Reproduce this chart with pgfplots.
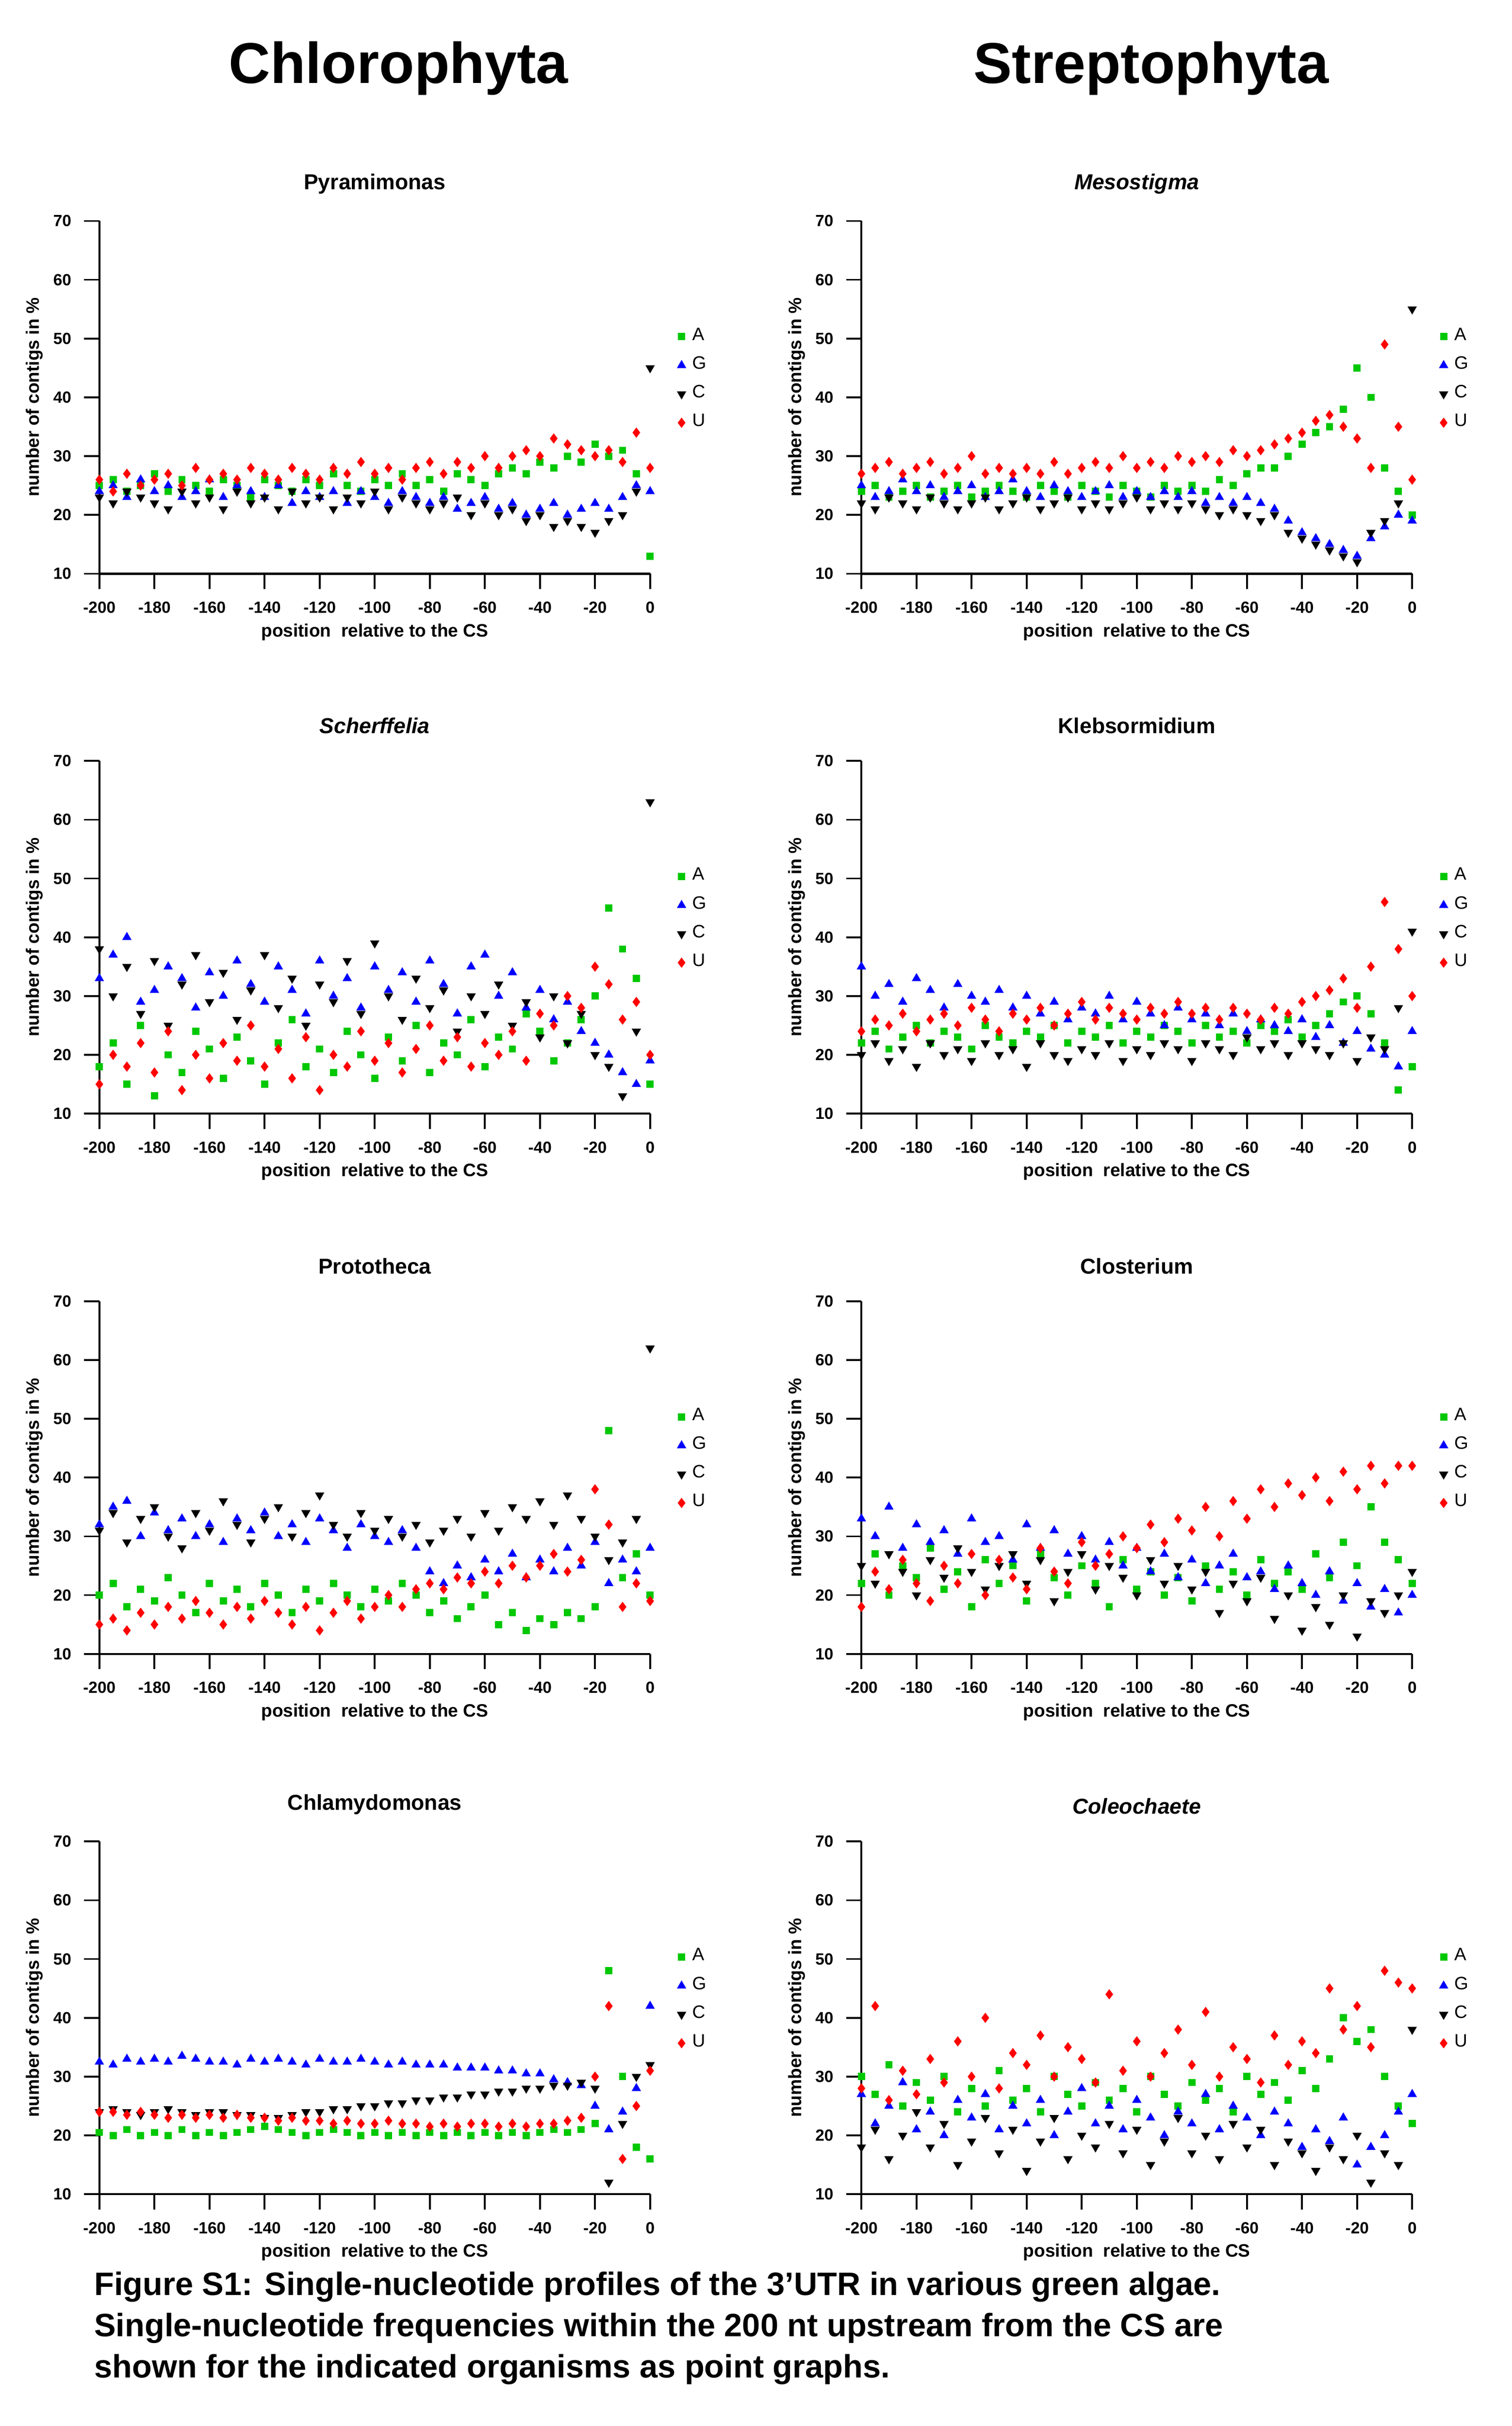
\documentclass[border=0pt]{standalone}
\usepackage{pgfplots}
\pgfplotsset{compat=1.18}
\usepackage{pgfplotstable}
\usepackage{fontspec}
\setmainfont{Liberation Sans}
\definecolor{cA}{RGB}{0,200,0}
\definecolor{cG}{RGB}{0,0,255}
\definecolor{cU}{RGB}{255,0,0}
\pgfplotstableread{
x A G C U
-200 25 24 23 26
-195 26 25 22 24
-190 24 23 24 27
-185 25 26 23 25
-180 27 24 22 26
-175 24 25 21 27
-170 26 23 24 25
-165 25 24 22 28
-160 24 26 23 26
-155 26 23 21 27
-150 25 25 24 26
-145 23 24 22 28
-140 26 23 23 27
-135 25 25 21 26
-130 24 22 24 28
-125 26 24 22 27
-120 25 23 23 26
-115 27 24 21 28
-110 25 22 23 27
-105 24 24 22 29
-100 26 23 24 27
-95 25 22 21 28
-90 27 24 23 26
-85 25 23 22 28
-80 26 22 21 29
-75 24 23 22 27
-70 27 21 23 29
-65 26 22 20 28
-60 25 23 22 30
-55 27 21 20 28
-50 28 22 21 30
-45 27 20 19 31
-40 29 21 20 30
-35 28 22 18 33
-30 30 20 19 32
-25 29 21 18 31
-20 32 22 17 30
-15 30 21 19 31
-10 31 23 20 29
-5 27 25 24 34
0 13 24 45 28
}\tPyr
\pgfplotstableread{
x A G C U
-200 24 25 22 27
-195 25 23 21 28
-190 23 24 23 29
-185 24 26 22 27
-180 25 24 21 28
-175 23 25 23 29
-170 24 23 22 27
-165 25 24 21 28
-160 23 25 22 30
-155 24 23 23 27
-150 25 24 21 28
-145 24 26 22 27
-140 23 24 23 28
-135 25 23 21 27
-130 24 25 22 29
-125 23 24 23 27
-120 25 23 21 28
-115 24 24 22 29
-110 23 25 21 28
-105 25 23 22 30
-100 24 24 23 28
-95 23 23 21 29
-90 25 24 22 28
-85 24 23 21 30
-80 25 24 22 29
-75 24 22 21 30
-70 26 23 20 29
-65 25 22 21 31
-60 27 23 20 30
-55 28 22 19 31
-50 28 21 20 32
-45 30 19 17 33
-40 32 17 16 34
-35 34 16 15 36
-30 35 15 14 37
-25 38 14 13 35
-20 45 13 12 33
-15 40 16 17 28
-10 28 18 19 49
-5 24 20 22 35
0 20 19 55 26
}\tMes
\pgfplotstableread{
x A G C U
-200 18 33 38 15
-195 22 37 30 20
-190 15 40 35 18
-185 25 29 27 22
-180 13 31 36 17
-175 20 35 25 24
-170 17 33 32 14
-165 24 28 37 20
-160 21 34 29 16
-155 16 30 34 22
-150 23 36 26 19
-145 19 32 31 25
-140 15 29 37 18
-135 22 35 28 21
-130 26 31 33 16
-125 18 27 25 23
-120 21 36 32 14
-115 17 30 29 20
-110 24 33 36 18
-105 20 28 27 24
-100 16 35 39 19
-95 23 31 30 22
-90 19 34 26 17
-85 25 29 33 21
-80 17 36 28 25
-75 22 32 31 19
-70 20 27 24 23
-65 26 35 30 18
-60 18 37 27 22
-55 23 30 32 20
-50 21 34 25 24
-45 27 28 29 19
-40 24 31 23 27
-35 19 26 30 25
-30 22 29 22 30
-25 26 24 27 28
-20 30 22 20 35
-15 45 20 18 32
-10 38 17 13 26
-5 33 15 24 29
0 15 19 63 20
}\tSch
\pgfplotstableread{
x A G C U
-200 22 35 20 24
-195 24 30 22 26
-190 21 32 19 25
-185 23 29 21 27
-180 25 33 18 24
-175 22 31 22 26
-170 24 28 20 27
-165 23 32 21 25
-160 21 30 19 28
-155 25 29 22 26
-150 23 31 20 24
-145 22 28 21 27
-140 24 30 18 26
-135 23 27 22 28
-130 25 29 20 25
-125 22 26 19 27
-120 24 28 21 29
-115 23 27 20 26
-110 25 30 22 28
-105 22 26 19 27
-100 24 29 21 26
-95 23 27 20 28
-90 25 25 22 27
-85 24 28 21 29
-80 22 26 19 27
-75 25 27 22 28
-70 23 25 21 26
-65 24 27 20 28
-60 22 24 23 27
-55 25 26 21 26
-50 24 25 22 28
-45 26 24 20 27
-40 23 26 22 29
-35 25 23 21 30
-30 27 25 20 31
-25 29 22 22 33
-20 30 24 19 28
-15 27 21 23 35
-10 22 20 21 46
-5 14 18 28 38
0 18 24 41 30
}\tKle
\pgfplotstableread{
x A G C U
-200 20 32 31 15
-195 22 35 34 16
-190 18 36 29 14
-185 21 30 33 17
-180 19 34 35 15
-175 23 31 30 18
-170 20 33 28 16
-165 17 30 34 19
-160 22 32 31 17
-155 19 29 36 15
-150 21 33 32 18
-145 18 31 29 16
-140 22 34 33 19
-135 20 30 35 17
-130 17 32 30 15
-125 21 29 34 18
-120 19 33 37 14
-115 22 31 32 17
-110 20 28 30 19
-105 18 32 34 16
-100 21 30 31 18
-95 19 29 33 20
-90 22 31 30 18
-85 20 28 32 21
-80 17 24 29 22
-75 19 22 31 21
-70 16 25 33 23
-65 18 23 30 22
-60 20 26 34 24
-55 15 24 31 22
-50 17 27 35 25
-45 14 23 33 23
-40 16 26 36 25
-35 15 24 32 27
-30 17 28 37 24
-25 16 25 33 26
-20 18 29 30 38
-15 48 22 26 32
-10 23 26 29 18
-5 27 24 33 22
0 20 28 62 19
}\tPro
\pgfplotstableread{
x A G C U
-200 22 33 25 18
-195 27 30 22 24
-190 20 35 27 21
-185 25 28 24 26
-180 23 32 20 22
-175 28 29 26 19
-170 21 31 23 25
-165 24 27 28 22
-160 18 33 24 27
-155 26 29 21 20
-150 22 30 25 26
-145 25 26 27 23
-140 19 32 22 21
-135 27 28 26 28
-130 23 31 19 24
-125 20 27 24 22
-120 25 30 27 29
-115 22 26 21 25
-110 18 29 25 27
-105 26 25 23 30
-100 21 28 20 28
-95 24 24 26 32
-90 20 27 22 29
-85 23 23 25 33
-80 19 26 21 31
-75 25 22 24 35
-70 21 25 17 30
-65 24 27 22 36
-60 20 23 19 33
-55 26 24 23 38
-50 22 21 16 35
-45 24 25 20 39
-40 21 22 14 37
-35 27 20 18 40
-30 23 24 15 36
-25 29 19 20 41
-20 25 22 13 38
-15 35 18 19 42
-10 29 21 17 39
-5 26 17 20 42
0 22 20 24 42
}\tClo
\pgfplotstableread{
x A G C U
-200 20.5 32.5 24 24
-195 20 32 24.5 24
-190 21 33 24 23.5
-185 20 32.5 23.5 24
-180 20.5 33 24 23.5
-175 20 32.5 24.5 23
-170 21 33.5 24 23.5
-165 20 33 23.5 23
-160 20.5 32.5 24 23.5
-155 20 32.5 24 23
-150 20.5 32 23.5 23.5
-145 21 33 23.5 23
-140 21.5 32.5 23 23
-135 21 33 23 22.5
-130 20.5 32.5 23.5 23
-125 20 32 24 22.5
-120 20.5 33 24 22.5
-115 21 32.5 24.5 22
-110 20.5 32.5 24.5 22.5
-105 20 33 25 22
-100 20.5 32.5 25 22
-95 20 32 25.5 22.5
-90 20.5 32.5 25.5 22
-85 20 32 26 22
-80 20.5 32 26 21.5
-75 20 32 26.5 22
-70 20.5 31.5 26.5 21.5
-65 20 31.5 27 22
-60 20.5 31.5 27 22
-55 20 31 27.5 21.5
-50 20.5 31 27.5 22
-45 20 30.5 28 21.5
-40 20.5 30.5 28 22
-35 21 29.5 28.5 22
-30 20.5 29 28.5 22.5
-25 21 28.5 29 23
-20 22 25 28 30
-15 48 21 12 42
-10 30 24 22 16
-5 18 28 30 25
0 16 42 32 31
}\tChl
\pgfplotstableread{
x A G C U
-200 30 27 18 28
-195 27 22 21 42
-190 32 25 16 26
-185 25 29 20 31
-180 29 21 24 27
-175 26 24 18 33
-170 30 20 22 29
-165 24 26 15 36
-160 28 23 19 30
-155 25 27 23 40
-150 31 21 17 28
-145 26 25 21 34
-140 28 22 14 32
-135 24 26 19 37
-130 30 20 23 30
-125 27 24 16 35
-120 25 28 20 33
-115 29 22 18 29
-110 26 25 22 44
-105 28 21 17 31
-100 24 26 21 36
-95 30 23 15 30
-90 27 20 19 34
-85 25 24 23 38
-80 29 22 17 32
-75 26 27 20 41
-70 28 21 16 30
-65 24 25 22 35
-60 30 23 18 33
-55 27 20 21 29
-50 29 24 15 37
-45 26 22 19 32
-40 31 18 17 36
-35 28 21 14 34
-30 33 19 18 45
-25 40 23 16 38
-20 36 15 20 42
-15 38 18 12 35
-10 30 20 17 48
-5 25 24 15 46
0 22 27 38 45
}\tCol
\pgfplotsset{panel/.style={
  width=153pt, height=98pt, scale only axis,
  xmin=-200, xmax=0, ymin=10, ymax=70,
  xtick={-200,-180,...,0}, ytick={10,20,...,70},
  axis lines=left, axis line style={-, line width=0.6pt},
  tick align=outside, tick style={black, line width=0.5pt},
  tick label style={font=\fontsize{4.5}{5}\selectfont\bfseries},
  /pgf/number format/assume math mode=true,
  xlabel={position\ \ relative to the CS},
  ylabel={number of contigs in \%},
  label style={font=\fontsize{5}{6}\selectfont\bfseries},
  xlabel style={yshift=4pt}, ylabel style={yshift=-4pt},
  title style={font=\fontsize{6}{7}\selectfont\bfseries, yshift=-2pt},
  legend style={at={(1.03,0.55)}, anchor=west, draw=none, fill=none,
    font=\fontsize{5}{6}\selectfont, row sep=-1pt},
  legend cell align=left,
  anchor=south west,
}}
\newcommand{\panel}[4]{%
\begin{axis}[panel, at={(#1,#2)}, title={#4}]
\addplot[only marks, mark=square*, mark size=0.8pt, color=cA] table[x=x,y=A]{#3};
\addplot[only marks, mark=triangle*, mark size=1.1pt, color=cG] table[x=x,y=G]{#3};
\addplot[only marks, mark=triangle*, mark options={rotate=180}, mark size=1.1pt, color=black] table[x=x,y=C]{#3};
\addplot[only marks, mark=diamond*, mark size=1.1pt, color=cU] table[x=x,y=U]{#3};
\legend{A,G,C,U}
\end{axis}}
\begin{document}
\begin{tikzpicture}
\path (0,0) rectangle (420pt,674pt);
\node[font=\fontsize{16}{20}\selectfont\bfseries] at (110.7pt,655pt) {Chlorophyta};
\node[font=\fontsize{16}{20}\selectfont\bfseries] at (319.8pt,655pt) {Streptophyta};
\panel{27.6pt}{514.6pt}{\tPyr}{Pyramimonas}
\panel{239.3pt}{514.6pt}{\tMes}{\itshape Mesostigma}
\panel{27.6pt}{364.6pt}{\tSch}{\itshape Scherffelia}
\panel{239.3pt}{364.6pt}{\tKle}{Klebsormidium}
\panel{27.6pt}{214.5pt}{\tPro}{Prototheca}
\panel{239.3pt}{214.5pt}{\tClo}{Closterium}
\panel{27.6pt}{64.4pt}{\tChl}{Chlamydomonas}
\panel{239.3pt}{64.4pt}{\tCol}{\itshape Coleochaete}
\node[anchor=north west, align=left, font=\fontsize{9}{11.4}\selectfont\bfseries, inner sep=0pt] at (26pt,43pt) {Figure S1: Single-nucleotide profiles of the 3'UTR in various green algae.\\Single-nucleotide frequencies within the 200 nt upstream from the CS are\\shown for the indicated organisms as point graphs.};
\end{tikzpicture}
\end{document}
